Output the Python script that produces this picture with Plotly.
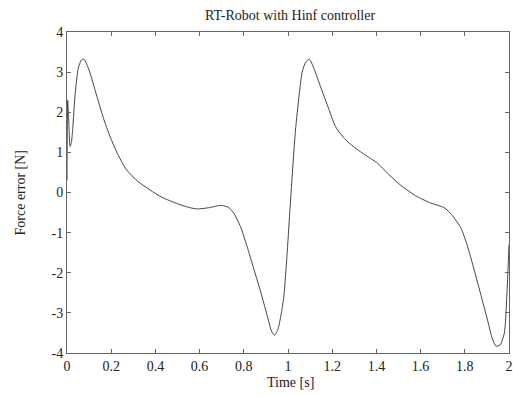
import plotly.graph_objects as go

time_s = [0.000, 0.003, 0.007, 0.014, 0.020, 0.026, 0.036, 0.051, 0.065, 0.077,
          0.100, 0.135, 0.165, 0.195, 0.23, 0.27, 0.32, 0.376, 0.43, 0.50,
          0.55, 0.59, 0.64, 0.70, 0.73, 0.753, 0.785, 0.815, 0.845, 0.875,
          0.905, 0.925, 0.939, 0.955, 0.97, 0.981, 0.995, 1.008, 1.02, 1.034,
          1.05, 1.064, 1.08, 1.097, 1.12, 1.147, 1.18, 1.215, 1.25, 1.283,
          1.34, 1.405, 1.45, 1.51, 1.571, 1.64, 1.707, 1.74, 1.782, 1.81,
          1.843, 1.875, 1.903, 1.925, 1.941, 1.96, 1.979, 1.99, 2.0]
force_err = [0.3, 2.3, 1.9, 1.15, 1.25, 1.6, 2.4, 3.1, 3.3, 3.32,
             3.05, 2.4, 1.85, 1.39, 0.95, 0.56, 0.28, 0.06, -0.12, -0.28,
             -0.37, -0.41, -0.38, -0.32, -0.37, -0.5, -0.85, -1.35, -1.9, -2.45,
             -3.05, -3.45, -3.56, -3.4, -3.0, -2.6, -1.6, -0.5, 0.5, 1.56,
             2.4, 3.0, 3.25, 3.32, 3.05, 2.64, 2.15, 1.64, 1.38, 1.2,
             0.97, 0.73, 0.48, 0.18, -0.06, -0.25, -0.38, -0.55, -0.88, -1.3,
             -1.94, -2.6, -3.18, -3.65, -3.83, -3.8, -3.5, -2.6, -1.3]

x_ticks = [0, 0.2, 0.4, 0.6, 0.8, 1, 1.2, 1.4, 1.6, 1.8, 2]
x_tick_labels = ["0", "0.2", "0.4", "0.6", "0.8", "1", "1.2", "1.4", "1.6", "1.8", "2"]
y_ticks = [-4, -3, -2, -1, 0, 1, 2, 3, 4]
y_tick_labels = ["-4", "-3", "-2", "-1", "0", "1", "2", "3", "4"]

font_family = "Liberation Serif, Times New Roman, serif"
txt_color = "#222222"

fig = go.Figure()
fig.add_trace(go.Scatter(
    x=time_s, y=force_err, mode="lines",
    line=dict(color="#444444", width=1, shape="spline", smoothing=0.6),
    showlegend=False, hoverinfo="skip"))

axis_common = dict(showgrid=False, zeroline=False, showline=True, mirror="ticks",
                   linecolor="#666666", linewidth=1, ticks="inside", ticklen=4,
                   tickcolor="#666666", automargin=False,
                   tickfont=dict(family=font_family, size=14, color=txt_color))

fig.update_layout(
    width=513, height=396,
    margin=dict(l=67, r=4, t=32, b=43),
    paper_bgcolor="white", plot_bgcolor="white",
    xaxis=dict(range=[0, 2], tickvals=x_ticks, ticktext=x_tick_labels, ticklabelstandoff=0,
               **axis_common),
    yaxis=dict(range=[-4, 4], tickvals=y_ticks, ticktext=y_tick_labels,
               **axis_common),
    annotations=[
        dict(text="RT-Robot with Hinf controller", xref="paper", yref="paper",
             x=(290 - 67) / (513 - 71), y=1, yshift=17, showarrow=False,
             xanchor="center", yanchor="middle",
             font=dict(family=font_family, size=14, color=txt_color)),
        dict(text="Time [s]", xref="paper", yref="paper",
             x=(290 - 67) / (513 - 71), y=0, yshift=-29, showarrow=False,
             xanchor="center", yanchor="middle",
             font=dict(family=font_family, size=14, color=txt_color)),
        dict(text="Force error [N]", xref="paper", yref="paper",
             x=0, xshift=-47, y=0.5, textangle=-90, showarrow=False,
             xanchor="center", yanchor="middle",
             font=dict(family=font_family, size=14, color=txt_color)),
    ],
)

fig.write_html("out.html", config={"displayModeBar": False},
               post_script="document.body.style.margin='0';document.body.style.overflow='hidden';")
